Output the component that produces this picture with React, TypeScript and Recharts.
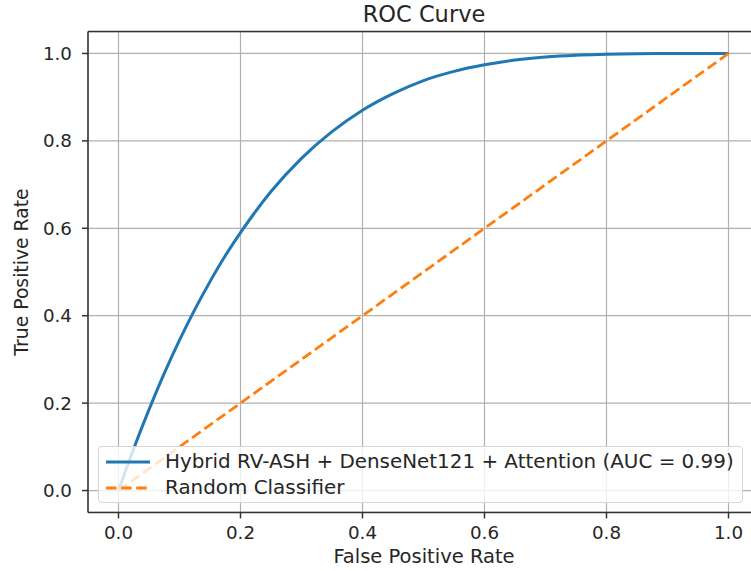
import React from 'react';
import { LineChart, Line, XAxis, YAxis, CartesianGrid, ReferenceLine, Legend, Label } from 'recharts';

const rocFpr = [0, 0.025, 0.05, 0.075, 0.1, 0.125, 0.15, 0.175, 0.2, 0.25, 0.3, 0.35, 0.4, 0.45, 0.5, 0.55, 0.6, 0.65, 0.7, 0.75, 0.8, 0.85, 0.9, 0.95, 1.0];
const rocTpr = [0, 0.096, 0.185, 0.268, 0.344, 0.414, 0.478, 0.537, 0.59, 0.684, 0.76, 0.821, 0.87, 0.908, 0.938, 0.959, 0.974, 0.985, 0.992, 0.996, 0.998, 0.9995, 1.0, 1.0, 1.0];
const randFpr = [0, 1];
const randTpr = [0, 1];
const axisTicks = [0, 0.2, 0.4, 0.6, 0.8, 1.0];

const rocName = 'Hybrid RV-ASH + DenseNet121 + Attention (AUC = 0.99)';
const randName = 'Random Classifier';
const titleText = 'ROC Curve';
const xLabel = 'False Positive Rate';
const yLabel = 'True Positive Rate';

const rocData = rocFpr.map((f, i) => ({ fpr: f, tpr: rocTpr[i] }));
const randData = randFpr.map((f, i) => ({ fpr: f, tpr: randTpr[i] }));

const FONT = '"DejaVu Sans", sans-serif';
const BLUE = '#1f77b4';
const ORANGE = '#ff7f0e';
const TEXT = '#262626';
const SPINE = '#333333';

const renderLegend = () => (
  <div
    style={{
      boxSizing: 'border-box',
      width: 645,
      height: 57,
      border: '1px solid #d6d6d6',
      borderRadius: 4,
      background: 'rgba(255,255,255,0.8)',
      position: 'relative',
      fontFamily: FONT,
      fontSize: 19.9,
      color: TEXT,
    }}
  >
    {[
      { name: rocName, color: BLUE, dash: undefined as string | undefined, cy: 15 },
      { name: randName, color: ORANGE, dash: '10.5 4.6', cy: 41 },
    ].map((r) => (
      <div key={r.name} style={{ position: 'absolute', left: 0, top: r.cy - 12, height: 24, width: 645 }}>
        <svg width={50} height={24} style={{ position: 'absolute', left: 7, top: 0 }}>
          <line x1={0} y1={12} x2={44} y2={12} stroke={r.color} strokeWidth={3} strokeDasharray={r.dash} />
        </svg>
        <span style={{ position: 'absolute', left: 66, top: 0, lineHeight: '24px', whiteSpace: 'nowrap' }}>{r.name}</span>
      </div>
    ))}
  </div>
);

export default function App() {
  return (
    <div style={{ position: 'absolute', left: 0, top: 0, width: 751, height: 571, overflow: 'hidden', background: '#fff', fontFamily: FONT }}>
      <div
        style={{
          position: 'absolute',
          left: 0,
          width: 848,
          top: 3,
          textAlign: 'center',
          fontSize: 22.5,
          lineHeight: '22px',
          color: TEXT,
          fontFamily: FONT,
        }}
      >
        {titleText}
      </div>
      <LineChart
        width={770}
        height={571}
        margin={{ top: 31.6, right: 11, left: 0, bottom: 0 }}
        style={{ position: 'absolute', left: 0, top: 0 }}
      >
        <CartesianGrid stroke="#b0b0b0" strokeWidth={1.2} />
        <XAxis
          dataKey="fpr"
          type="number"
          domain={[-0.05, 1.05]}
          ticks={axisTicks}
          allowDataOverflow
          height={58.6}
          tickFormatter={(v: number) => v.toFixed(1)}
          tickSize={6}
          tickMargin={8}
          stroke={SPINE}
          strokeWidth={1.5}
          tick={{ fill: TEXT, fontSize: 18.3, fontFamily: FONT }}
        >
          <Label
            content={() => (
              <text x={424} y={563} textAnchor="middle" fill={TEXT} fontSize={19.5} fontFamily={FONT}>
                {xLabel}
              </text>
            )}
          />
        </XAxis>
        <YAxis
          type="number"
          domain={[-0.05, 1.05]}
          ticks={axisTicks}
          allowDataOverflow
          width={88}
          tickFormatter={(v: number) => v.toFixed(1)}
          tickSize={6}
          tickMargin={10}
          stroke={SPINE}
          strokeWidth={1.5}
          tick={{ fill: TEXT, fontSize: 18.3, fontFamily: FONT }}
        >
          <Label
            content={(props: any) => {
              const vb = props.viewBox || { y: 31.6, height: 480.8 };
              const cy = vb.y + vb.height / 2;
              return (
                <text
                  x={21}
                  y={cy}
                  dy={6.5}
                  transform={`rotate(-90, 21, ${cy})`}
                  textAnchor="middle"
                  fill={TEXT}
                  fontSize={18.8}
                  fontFamily={FONT}
                >
                  {yLabel}
                </text>
              );
            }}
          />
        </YAxis>
        <ReferenceLine y={1.05} stroke={SPINE} strokeWidth={1.5} ifOverflow="extendDomain" />
        <ReferenceLine x={1.05} stroke={SPINE} strokeWidth={1.5} ifOverflow="extendDomain" />
        <Line
          data={rocData}
          dataKey="tpr"
          name={rocName}
          type="monotone"
          stroke={BLUE}
          strokeWidth={3}
          dot={false}
          activeDot={false}
          isAnimationActive={false}
        />
        <Line
          data={randData}
          dataKey="tpr"
          name={randName}
          type="linear"
          stroke={ORANGE}
          strokeWidth={2.8}
          strokeDasharray="10.5 4.6"
          dot={false}
          activeDot={false}
          isAnimationActive={false}
        />
        <Legend
          layout="horizontal"
          verticalAlign="middle"
          align="center"
          wrapperStyle={{ left: 98, top: 446, width: 645, height: 57 }}
          content={renderLegend}
        />
      </LineChart>
    </div>
  );
}
